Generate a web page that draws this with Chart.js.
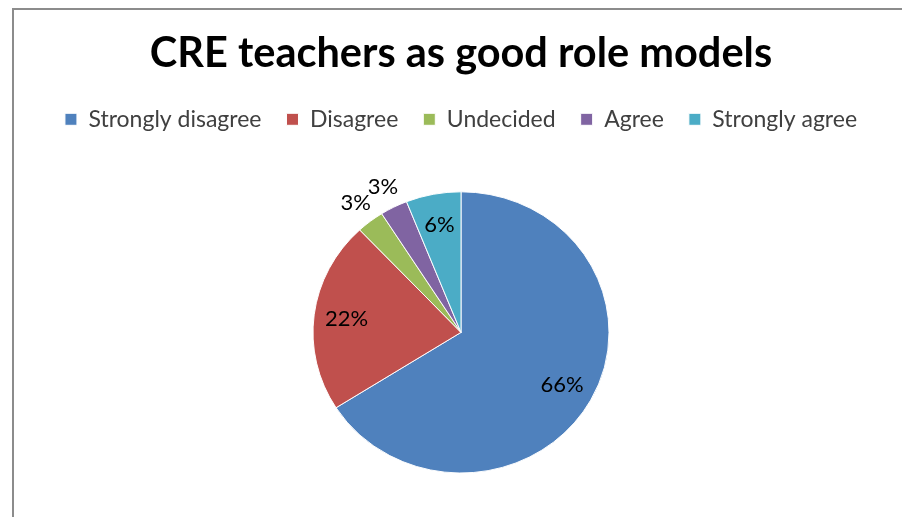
<!doctype html>
<html lang="en">
  <head>
    <meta charset="utf-8">
    <script src="https://cdn.jsdelivr.net/npm/chart.js@4.4.0/dist/chart.umd.min.js"></script>
    <title>CRE teachers as good role models</title>
    <style>
      body { margin: 0; background: #fff; }
      #frame { position: absolute; left: 12px; top: 8px; width: 900px; height: 520px;
               border-left: 2px solid #8c8c8c; border-top: 2px solid #8c8c8c; }
      #wrap { position: absolute; left: 0; top: 0; width: 902px; height: 517px; }
    </style>
  </head>
  <body>
    <div id="frame"></div>
    <div id="wrap"><canvas id="PieChart"></canvas></div>

<script>

// chart data
const categories = ['Strongly disagree', 'Disagree', 'Undecided', 'Agree', 'Strongly agree'];
const percents = [66, 22, 3, 3, 6];
const colours = ['#4F81BD', '#C0504D', '#9BBB59', '#8064A2', '#4BACC6'];

const FONT = 'Lato, "Open Sans", sans-serif';
const squash = 0.95; // the original pie is a little wider than tall

// squeeze the pie vertically round its centre
const ellipsePie = {
  id: 'ellipsePie',
  beforeDatasetsDraw(chart) {
    const arc = chart.getDatasetMeta(0).data[0];
    const ctx = chart.ctx;
    ctx.save();
    ctx.translate(arc.x, arc.y);
    ctx.scale(1, squash);
    ctx.translate(-arc.x, -arc.y);
  },
  afterDatasetsDraw(chart) {
    chart.ctx.restore();
  }
};

// percentage labels, small slices go outside
const sliceLabels = {
  id: 'sliceLabels',
  afterDraw(chart) {
    const ctx = chart.ctx;
    const meta = chart.getDatasetMeta(0);
    ctx.save();
    ctx.font = '22px ' + FONT;
    ctx.fillStyle = '#000';
    ctx.textAlign = 'center';
    ctx.textBaseline = 'middle';
    meta.data.forEach(function (arc, i) {
      const mid = (arc.startAngle + arc.endAngle) / 2;
      const value = percents[i];
      const dist = value < 5 ? arc.outerRadius + 24 : arc.outerRadius * 0.78;
      const x = arc.x + Math.cos(mid) * dist;
      const y = arc.y + Math.sin(mid) * dist * squash;
      ctx.fillText(value + '%', x, y);
    });
    ctx.restore();
  }
};

var ctx = document.getElementById('PieChart').getContext('2d');
var pieChart = new Chart(ctx, {
  type: 'pie',
  data: {
    labels: categories,
    datasets: [{
      data: percents,
      backgroundColor: colours,
      borderColor: '#ffffff',
      borderWidth: 1,
      radius: 148
    }]
  },
  plugins: [ellipsePie, sliceLabels],
  options: {
    responsive: true,
    maintainAspectRatio: false,
    animation: false,
    layout: {
      padding: { left: 20, right: 0, top: 0, bottom: 0 }
    },
    plugins: {
      title: {
        display: true,
        text: 'CRE teachers as good role models',
        color: '#000',
        font: { family: FONT, size: 41.5, weight: 'bold' },
        padding: { top: 29, bottom: 4 }
      },
      legend: {
        position: 'top',
        weight: 1600,
        labels: {
          color: '#404040',
          font: { family: FONT, size: 23 },
          boxWidth: 12,
          boxHeight: 12,
          padding: 25
        }
      },
      // empty spacer between legend and pie
      subtitle: {
        display: true,
        text: '',
        font: { size: 5 },
        padding: { top: 1, bottom: 0 }
      },
      tooltip: { enabled: false }
    }
  }
});

</script>
  </body>
</html>
